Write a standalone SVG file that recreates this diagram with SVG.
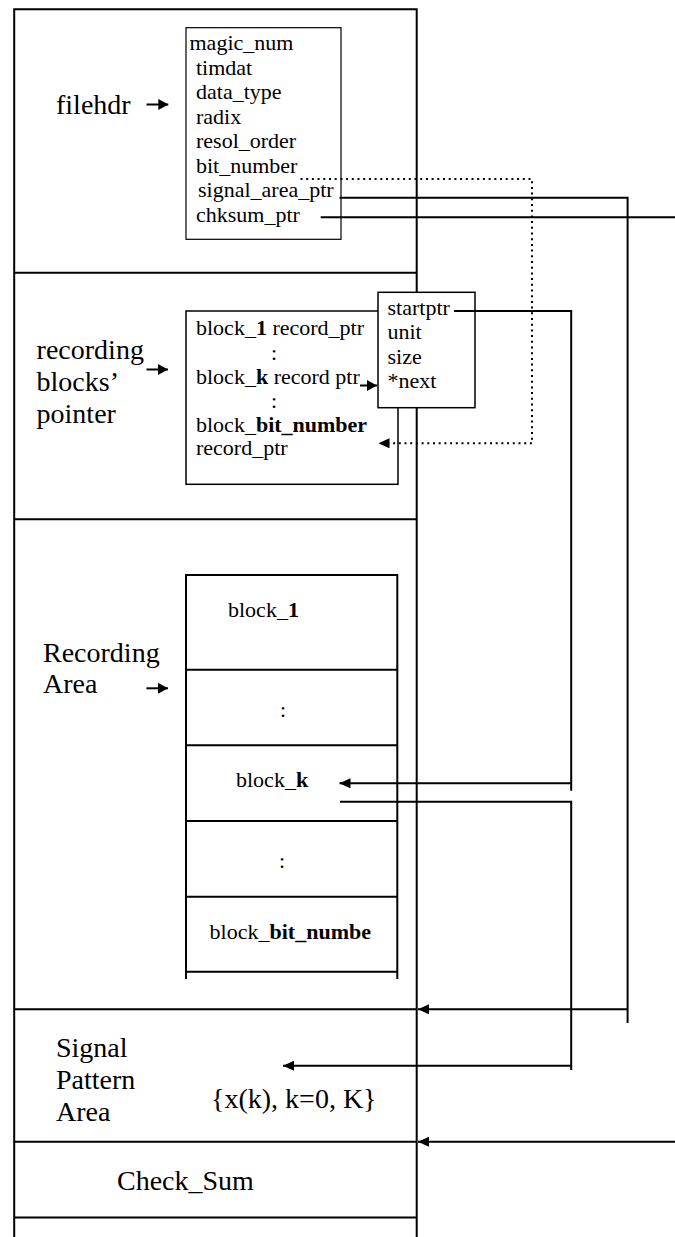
<svg xmlns="http://www.w3.org/2000/svg" width="675" height="1237" viewBox="0 0 675 1237" font-family="'Liberation Serif', 'Times New Roman', Times, 'DejaVu Serif', serif">
<style>
text{font-family:'Liberation Serif','Times New Roman',Times,'DejaVu Serif',serif;fill:#000}
.t{font-size:22px}
.lbl{font-size:28px}
.b{font-weight:bold}
.frame{stroke:#000;stroke-width:2;fill:none}
.box{stroke:#000;stroke-width:1.5;fill:#fff}
.thin{stroke:#000;stroke-width:1.2;fill:#fff}
.ln{stroke:#000;stroke-width:2;fill:none}
.dot{stroke:#000;stroke-width:2;fill:none;stroke-dasharray:2 3.7}
</style>
<defs>
<marker id="ah" markerUnits="userSpaceOnUse" markerWidth="11" markerHeight="10" refX="11" refY="5" orient="auto">
<path d="M0,0 L11,5 L0,10 z" fill="#000"/>
</marker>
<marker id="ahs" markerUnits="userSpaceOnUse" markerWidth="10" markerHeight="11" refX="10" refY="5.5" orient="auto">
<path d="M0,0 L10,5.5 L0,11 z" fill="#000"/>
</marker>
</defs>

<g id="frame">
<path class="frame" d="M14.2,1237 V9.3 H416.7 V1237"/>
<line class="frame" x1="14.2" y1="272.7" x2="416.7" y2="272.7"/>
<line class="frame" x1="14.2" y1="519.3" x2="416.7" y2="519.3"/>
<line class="frame" x1="14.2" y1="1009.3" x2="416.7" y2="1009.3"/>
<line class="frame" x1="14.2" y1="1141.7" x2="416.7" y2="1141.7"/>
<line class="frame" x1="14.2" y1="1217.5" x2="416.7" y2="1217.5"/>
</g>

<g id="filehdr">
<text class="lbl" x="56" y="113.5">filehdr</text>
<line class="ln" x1="146.5" y1="104.5" x2="168.3" y2="104.5" marker-end="url(#ahs)"/>
<rect class="thin" x="186" y="27.7" width="155" height="211.6"/>
<text class="t" x="189.5" y="50">magic_num</text>
<text class="t" x="196" y="74.5">timdat</text>
<text class="t" x="196" y="99">data_type</text>
<text class="t" x="196" y="123.5">radix</text>
<text class="t" x="196" y="148">resol_order</text>
<text class="t" x="196" y="172.5">bit_number</text>
<text class="t" x="198" y="197">signal_area_ptr</text>
<text class="t" x="196" y="221.5">chksum_ptr</text>
</g>

<g id="blocks_pointer">
<text class="lbl" x="36.6" y="359.3">recording</text>
<text class="lbl" x="36.6" y="391.2">blocks’</text>
<text class="lbl" x="36.6" y="422.5">pointer</text>
<line class="ln" x1="146.5" y1="369.5" x2="168" y2="369.5" marker-end="url(#ahs)"/>
<rect class="box" x="186" y="311" width="212" height="173.3"/>
<text class="t" x="196" y="335">block_<tspan class="b">1</tspan> record_ptr</text>
<text class="t" x="271" y="360">:</text>
<text class="t" x="196" y="384">block_<tspan class="b">k</tspan> record ptr</text>
<text class="t" x="271" y="408">:</text>
<text class="t" x="196" y="432">block_<tspan class="b">bit_number</tspan></text>
<text class="t" x="196" y="455">record_ptr</text>
</g>

<g id="block_descriptor">
<rect class="box" x="378" y="292.3" width="97" height="115.4"/>
<text class="t" x="387.5" y="315">startptr</text>
<text class="t" x="387.5" y="339">unit</text>
<text class="t" x="387.5" y="363.5">size</text>
<text class="t" x="387.5" y="388">*next</text>
</g>

<g id="recording_area">
<text class="lbl" x="43" y="661.7">Recording</text>
<text class="lbl" x="43" y="693.3">Area</text>
<line class="ln" x1="146.5" y1="688.3" x2="168" y2="688.3" marker-end="url(#ahs)"/>
<path class="frame" d="M186,979 V575 H397.3 V979"/>
<line class="frame" x1="186" y1="669.7" x2="397.3" y2="669.7"/>
<line class="frame" x1="186" y1="745.3" x2="397.3" y2="745.3"/>
<line class="frame" x1="186" y1="821" x2="397.3" y2="821"/>
<line class="frame" x1="186" y1="896.7" x2="397.3" y2="896.7"/>
<line class="frame" x1="186" y1="971.7" x2="397.3" y2="971.7"/>
<text class="t" x="228" y="617.3">block_<tspan class="b">1</tspan></text>
<text class="t" x="280" y="716.7">:</text>
<text class="t" x="236" y="786.7">block_<tspan class="b">k</tspan></text>
<text class="t" x="279" y="868.3">:</text>
<text class="t" x="209.6" y="939">block_<tspan class="b">bit_numbe</tspan></text>
</g>

<g id="signal_pattern_area">
<text class="lbl" x="56" y="1056.7">Signal</text>
<text class="lbl" x="56" y="1089.3">Pattern</text>
<text class="lbl" x="56" y="1120.7">Area</text>
<text class="lbl" x="211" y="1108.3">{x(k), k=0, K}</text>
</g>

<g id="check_sum">
<text class="lbl" x="117" y="1190">Check_Sum</text>
</g>

<g id="connectors">
<polyline class="dot" points="300.5,179 532,179 532,443.3 378.5,443.3" marker-end="url(#ah)"/>
<polyline class="ln" points="339.5,197.8 627.6,197.8 627.6,1023"/>
<line class="ln" x1="627.6" y1="1009.3" x2="418" y2="1009.3" marker-end="url(#ah)"/>
<line class="ln" x1="320.7" y1="217.3" x2="675" y2="217.3"/>
<line class="ln" x1="675" y1="1141.7" x2="418" y2="1141.7" marker-end="url(#ah)"/>
<line class="ln" x1="360" y1="385.5" x2="377" y2="385.5" marker-end="url(#ahs)"/>
<polyline class="ln" points="454,311 571.2,311 571.2,790.7"/>
<line class="ln" x1="571.2" y1="783.3" x2="339.5" y2="783.3" marker-end="url(#ah)"/>
<polyline class="ln" points="340,801.7 571.2,801.7 571.2,1070"/>
<line class="ln" x1="571.2" y1="1065.7" x2="283" y2="1065.7" marker-end="url(#ah)"/>
</g>
</svg>
